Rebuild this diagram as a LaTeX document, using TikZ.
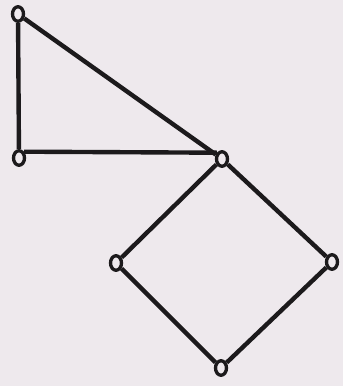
\documentclass[tikz,border=0pt]{standalone}
\usetikzlibrary{shapes.geometric}
\definecolor{paper}{RGB}{238,233,237}
\definecolor{ink}{RGB}{28,26,28}
\begin{document}
\begin{tikzpicture}[x=0.02cm,y=-0.02cm,
  vtx/.style={ellipse,draw=ink,line width=1.9pt,minimum width=0.22cm,minimum height=0.29cm,inner sep=0pt,fill=paper},
  edge/.style={draw=ink,line width=2.5pt}]
\fill[paper] (0,0) rectangle (343,386);
\useasboundingbox (0,0) rectangle (343,386);
\node[vtx] (A) at (18,14) {};
\node[vtx] (B) at (19,158) {};
\node[vtx] (C) at (222,159) {};
\node[vtx] (D) at (116,263) {};
\node[vtx] (E) at (332,262) {};
\node[vtx] (F) at (221,368) {};
\draw[edge] (A) -- (B);
\draw[edge] (A) -- (C);
\draw[edge] (B.north east) -- (C.north west);
\draw[edge] (C) -- (D);
\draw[edge] (C) -- (E);
\draw[edge] (D) -- (F);
\draw[edge] (E) -- (F);
\end{tikzpicture}
\end{document}
